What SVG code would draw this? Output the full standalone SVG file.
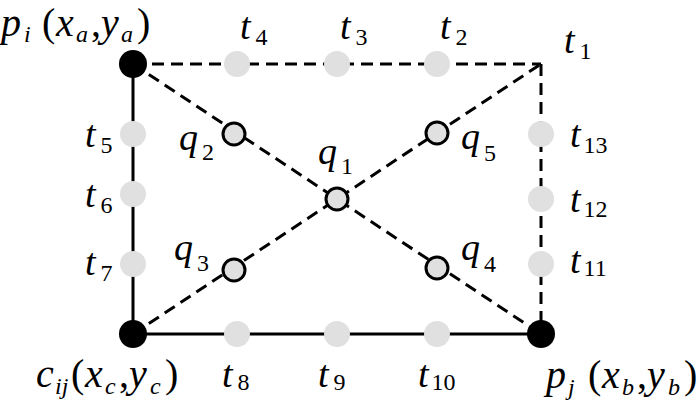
<svg xmlns="http://www.w3.org/2000/svg" width="700" height="409" viewBox="0 0 700 409">
<style>
.s{stroke:#000;stroke-width:3;fill:none}
.d{stroke:#000;stroke-width:3;fill:none;stroke-dasharray:12 7}
.g{fill:#e0e0e0;stroke:none}
.q{fill:#e0e0e0;stroke:#000;stroke-width:3}
.k{fill:#000}
text{font-family:"Liberation Serif","Times New Roman",serif;font-size:38px;fill:#000;font-style:italic}
.L{font-size:40px}
.sb{font-size:24px;font-style:normal}
.si{font-size:24px;font-style:italic}
.n{font-style:normal}
</style>
<rect width="700" height="409" fill="#fff"/>
<g id="connectors">
<line class="s" x1="133" y1="64" x2="133" y2="334"/>
<line class="s" x1="133" y1="334" x2="541" y2="334"/>
<line class="d" x1="133" y1="64" x2="541" y2="64"/>
<line class="d" x1="541" y1="64" x2="541" y2="334"/>
<line class="d" x1="133" y1="64" x2="541" y2="334"/>
<line class="d" x1="133" y1="334" x2="541" y2="64"/>
</g>
<g id="pi"><circle class="k" cx="133" cy="64" r="14"/><text class="L" y="36"><tspan x="1">p</tspan><tspan class="si" x="24" y="42">i</tspan><tspan class="n" x="42" y="36">(</tspan><tspan x="56">x</tspan><tspan class="si" x="76" y="42">a</tspan><tspan class="n" x="91" y="36">,</tspan><tspan x="101">y</tspan><tspan class="si" x="121" y="42">a</tspan><tspan class="n" x="137" y="36">)</tspan></text></g>
<g id="cij"><circle class="k" cx="133" cy="334" r="14"/><text class="L" y="387"><tspan x="36">c</tspan><tspan class="si" x="55" y="394">ij</tspan><tspan class="n" x="71" y="387">(</tspan><tspan x="85">x</tspan><tspan class="si" x="105" y="394">c</tspan><tspan class="n" x="119" y="387">,</tspan><tspan x="129">y</tspan><tspan class="si" x="150" y="394">c</tspan><tspan class="n" x="165" y="387">)</tspan></text></g>
<g id="pj"><circle class="k" cx="541" cy="334" r="14"/><text class="L" y="388"><tspan x="546">p</tspan><tspan class="si" x="568" y="395">j</tspan><tspan class="n" x="588" y="388">(</tspan><tspan x="602">x</tspan><tspan class="si" x="622" y="395">b</tspan><tspan class="n" x="637" y="388">,</tspan><tspan x="647">y</tspan><tspan class="si" x="668" y="395">b</tspan><tspan class="n" x="684" y="388">)</tspan></text></g>
<g id="t1"><text x="564" y="53">t<tspan class="sb" dx="5" dy="6">1</tspan></text></g>
<g id="t2"><circle class="g" cx="437" cy="64" r="13"/><text x="440" y="39">t<tspan class="sb" dx="5" dy="6">2</tspan></text></g>
<g id="t3"><circle class="g" cx="337" cy="64" r="13"/><text x="340" y="39">t<tspan class="sb" dx="5" dy="6">3</tspan></text></g>
<g id="t4"><circle class="g" cx="237" cy="64" r="13"/><text x="240" y="39">t<tspan class="sb" dx="5" dy="6">4</tspan></text></g>
<g id="t5"><circle class="g" cx="133" cy="134" r="13"/><text x="85" y="147">t<tspan class="sb" dx="5" dy="6">5</tspan></text></g>
<g id="t6"><circle class="g" cx="133" cy="194" r="13"/><text x="85" y="207">t<tspan class="sb" dx="5" dy="6">6</tspan></text></g>
<g id="t7"><circle class="g" cx="133" cy="264" r="13"/><text x="85" y="275">t<tspan class="sb" dx="5" dy="6">7</tspan></text></g>
<g id="t8"><circle class="g" cx="237" cy="334" r="13"/><text x="222" y="387">t<tspan class="sb" dx="5" dy="3">8</tspan></text></g>
<g id="t9"><circle class="g" cx="337" cy="334" r="13"/><text x="318" y="387">t<tspan class="sb" dx="5" dy="3">9</tspan></text></g>
<g id="t10"><circle class="g" cx="437" cy="334" r="13"/><text x="418" y="387">t<tspan class="sb" dx="3" dy="3">10</tspan></text></g>
<g id="t11"><circle class="g" cx="541" cy="264" r="13"/><text x="570" y="273">t<tspan class="sb" dx="3" dy="3">11</tspan></text></g>
<g id="t12"><circle class="g" cx="541" cy="199" r="13"/><text x="570" y="212">t<tspan class="sb" dx="3" dy="5">12</tspan></text></g>
<g id="t13"><circle class="g" cx="541" cy="134" r="13"/><text x="570" y="147">t<tspan class="sb" dx="3" dy="6">13</tspan></text></g>
<g id="q1"><circle class="q" cx="337" cy="199" r="11"/><text x="318" y="164">q<tspan class="sb" dx="4" dy="10">1</tspan></text></g>
<g id="q2"><circle class="q" cx="234" cy="134" r="11"/><text x="179" y="150">q<tspan class="sb" dx="4" dy="10">2</tspan></text></g>
<g id="q3"><circle class="q" cx="234" cy="270" r="11"/><text x="174" y="260">q<tspan class="sb" dx="4" dy="11">3</tspan></text></g>
<g id="q4"><circle class="q" cx="437" cy="268" r="11"/><text x="461" y="260">q<tspan class="sb" dx="4" dy="12">4</tspan></text></g>
<g id="q5"><circle class="q" cx="437" cy="133" r="11"/><text x="461" y="149">q<tspan class="sb" dx="4" dy="12">5</tspan></text></g>
</svg>
